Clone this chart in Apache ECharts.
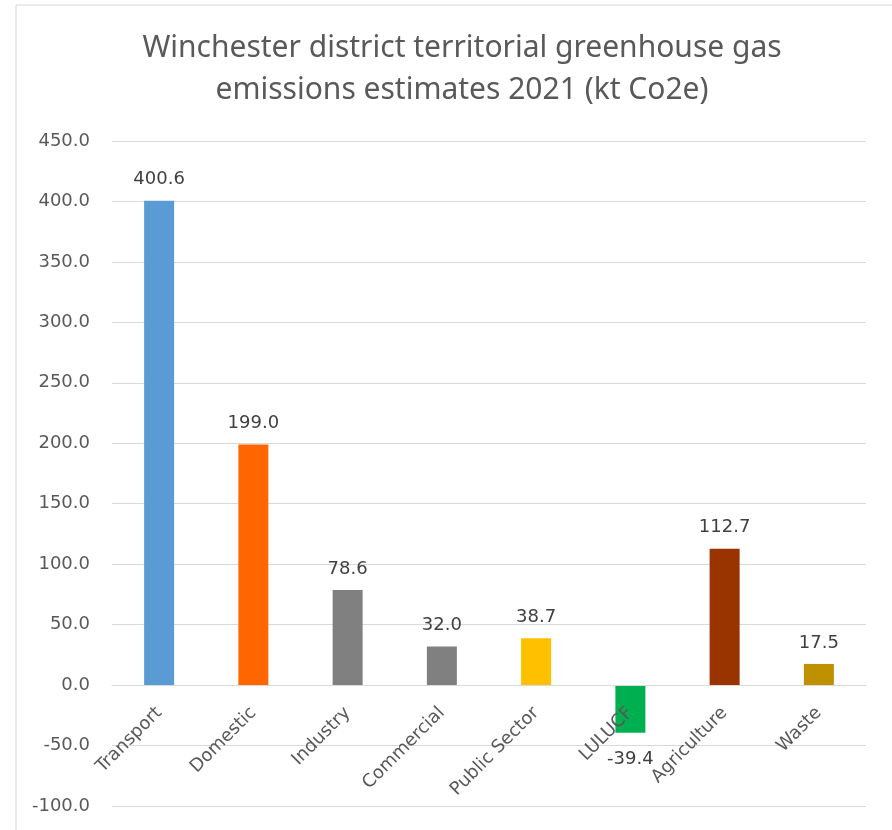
<!DOCTYPE html>
<html>
<head>
<meta charset="utf-8">
<script src="https://cdn.jsdelivr.net/npm/echarts@6/dist/echarts.min.js"></script>
<style>
  html, body { margin: 0; padding: 0; background: #fff; }
  #main { width: 892px; height: 830px; }
</style>
</head>
<body>
<div id="main"></div>
<script>
// sectors and emissions (kt CO2e), 2021
var sectors = ['Transport', 'Domestic', 'Industry', 'Commercial', 'Public Sector', 'LULUCF', 'Agriculture', 'Waste'];
var emissions = [400.6, 199.0, 78.6, 32.0, 38.7, -39.4, 112.7, 17.5];
var barColors = ['#5B9BD5', '#FF6600', '#808080', '#808080', '#FFC000', '#00B050', '#993300', '#BF9000'];
var yTicks = { min: -100, max: 450, step: 50 };

var myChart = echarts.init(document.getElementById('main'));

// zero line sits 2 ticks above the bottom of the plot
var plotTop = 141, plotBottom = 806;
var zeroOffset = (plotBottom - plotTop) * (0 - yTicks.min) / (yTicks.max - yTicks.min);

var option = {
  animation: false,
  title: {
    text: 'Winchester district territorial greenhouse gas\nemissions estimates 2021 (kt Co2e)',
    left: 457,
    top: 22,
    textAlign: 'center',
    textStyle: {
      fontFamily: 'Noto Sans',
      fontSize: 30,
      fontWeight: 'normal',
      color: '#595959',
      lineHeight: 42
    }
  },
  graphic: [{
    type: 'rect',
    shape: { x: 16, y: 5, width: 900, height: 900 },
    style: { fill: 'none', stroke: '#d9d9d9', lineWidth: 1 },
    silent: true
  }],
  grid: {
    left: 112,
    right: 26,
    top: plotTop,
    bottom: 830 - plotBottom,
    containLabel: false,
    outerBoundsMode: 'none'
  },
  xAxis: {
    type: 'category',
    data: sectors,
    offset: -zeroOffset,
    z: 5,
    axisLine: { show: true, onZero: false, lineStyle: { color: '#d9d9d9', width: 1 } },
    axisTick: { show: false },
    axisLabel: {
      interval: 0,
      rotate: 45,
      margin: 25,
      fontFamily: 'DejaVu Sans',
      fontSize: 18,
      color: '#595959'
    }
  },
  yAxis: {
    type: 'value',
    min: yTicks.min,
    max: yTicks.max,
    interval: yTicks.step,
    axisLine: { show: false },
    axisTick: { show: false },
    splitLine: { lineStyle: { color: '#d9d9d9', width: 1 } },
    axisLabel: {
      margin: 22,
      fontFamily: 'DejaVu Sans',
      fontSize: 18,
      color: '#595959',
      formatter: function (v) { return v.toFixed(1); }
    }
  },
  series: [{
    type: 'bar',
    barWidth: 30,
    data: emissions.map(function (v, i) {
      return {
        value: v,
        itemStyle: { color: barColors[i] },
        label: v < 0 ? { position: 'bottom', distance: 18 } : { position: 'top', distance: 12 }
      };
    }),
    label: {
      show: true,
      fontFamily: 'DejaVu Sans',
      fontSize: 18,
      color: '#404040',
      formatter: function (p) { return p.value.toFixed(1); }
    }
  }]
};

myChart.setOption(option);
</script>
</body>
</html>
